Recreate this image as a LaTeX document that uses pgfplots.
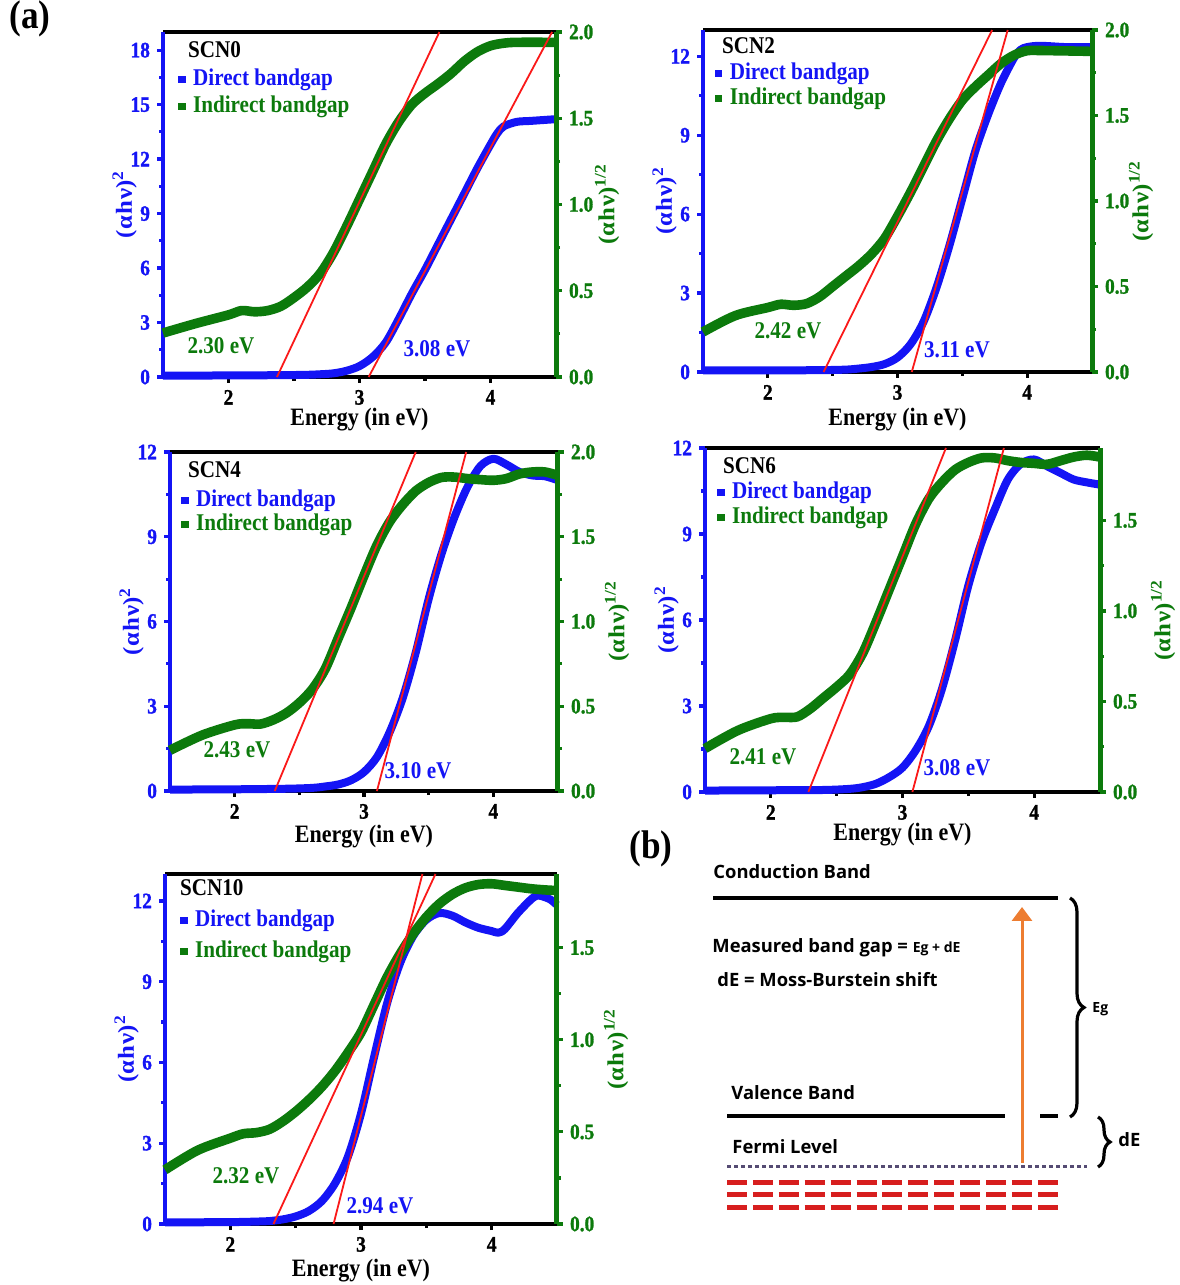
\documentclass[border=0pt]{standalone}
\usepackage{pgfplots}
\pgfplotsset{compat=1.18}
\usetikzlibrary{arrows.meta,decorations.pathreplacing}
\usepackage{fontspec}
\setmainfont{Liberation Serif}[FakeStretch=0.88]
\newfontfamily\tickfam{Liberation Serif}[FakeStretch=0.88, FakeBold=1.2]
\newfontfamily\ylabfam{Liberation Serif}[FakeStretch=1.08]
\newfontfamily\bsans{Open Sans}

\definecolor{bblue}{RGB}{20,20,245}
\definecolor{dgreen}{RGB}{12,122,12}
\definecolor{fitred}{RGB}{250,25,25}
\definecolor{orng}{RGB}{237,125,49}
\definecolor{fermi}{RGB}{85,75,115}
\definecolor{dred}{RGB}{215,30,30}

\newcommand\ticfont{\tickfam\bfseries\fontsize{11}{12}\selectfont}
\newcommand\tb[1]{\textbf{#1}}
\newcommand\labfont{\bfseries\fontsize{12.5}{14}\selectfont}
\newcommand\legfont{\bfseries\fontsize{12}{13}\selectfont}
\newcommand\ylfont{\ylabfam\bfseries\fontsize{11.5}{13}\selectfont}
\newcommand\bfont{\bsans\bfseries\fontsize{9.2}{11}\selectfont}
\newcommand\sbfont{\bsans\bfseries\fontsize{7}{8}\selectfont}

\pgfplotsset{
  /pgf/number format/assume math mode=true,
  bluecurve/.style={draw=bblue, line width=4pt, smooth, tension=0.5, line cap=butt, line join=round, no marks},
  greencurve/.style={draw=dgreen, line width=4.8pt, smooth, tension=0.5, line cap=butt, line join=round, no marks},
  fitline/.style={draw=fitred, line width=0.9pt, no marks},
  % left ordinate: (alpha h nu)^2, frame top and bottom
  panelA/.style={
    scale only axis, anchor=south west, clip=false,
    xmin=1.5, xmax=4.5, ymin=0,
    axis x line*=box, axis y line*=left, separate axis lines,
    x axis line style={black, line width=2pt},
    y axis line style={bblue, line width=2pt},
    xtick={2,3,4}, xticklabels={\tb{2},\tb{3},\tb{4}},
    minor x tick num=1, minor y tick num=1,
    xtick pos=left, ytick pos=left, tick align=outside,
    major tick length=3pt, minor tick length=2pt,
    x tick style={black, line width=1.6pt},
    y tick style={bblue, line width=1.6pt},
    xticklabel style={black, font=\ticfont},
    yticklabel style={bblue, font=\ticfont},
    ylabel near ticks,
    xlabel={Energy (in eV)}, xlabel style={font=\labfont, black, yshift=5pt},
    ylabel={(α\kern.6pt h\kern.6pt ν)\textsuperscript{2}},
    ylabel style={font=\ylfont, bblue},
    ylabel shift=-10pt,
    legend image code/.code={\fill[##1] (0pt,-1.6pt) rectangle (3.2pt,1.6pt); \path (6pt,0pt);},
    legend style={draw=none, fill=none, anchor=north west, inner sep=0pt,
      font=\legfont, legend cell align=left,
      nodes={inner sep=1pt, text height=8.5pt, text depth=2.5pt}},
  },
  % right ordinate: (alpha h nu)^(1/2)
  panelB/.style={
    scale only axis, anchor=south west, clip=false,
    xmin=1.5, xmax=4.5, ymin=0,
    hide x axis, axis y line*=right,
    y axis line style={dgreen, line width=2.5pt},
    ytick pos=right, yticklabel pos=right, tick align=outside,
    minor y tick num=1, major tick length=3pt, minor tick length=2pt,
    y tick style={dgreen, line width=1.6pt},
    yticklabel style={dgreen, font=\ticfont},
    ylabel near ticks,
    ylabel={(α\kern.6pt h\kern.6pt ν)\textsuperscript{1/2}},
    ylabel style={font=\ylfont, dgreen},
  },
  leftA/.style={yticklabels={\tb{0},\tb{3},\tb{6},\tb{9},\tb{12},\tb{15},\tb{18}}},
  rightB/.style={yticklabels={\tb{0.0},\tb{0.5},\tb{1.0},\tb{1.5},\tb{2.0}}},
}

\begin{document}
\begin{tikzpicture}
\useasboundingbox (0,0) rectangle (589.5pt,642.5pt);

% ================= SCN0 =================
\begin{axis}[panelA, at={(81.5pt,454pt)}, width=196.5pt, height=172.5pt,
  ymax=19, ytick={0,3,6,9,12,15,18}, leftA,
  legend style={at={(0.038,0.901)}, row sep=0.5pt}]
\addlegendimage{bblue}\addlegendentry{\textcolor{bblue}{Direct bandgap}}
\addlegendimage{dgreen}\addlegendentry{\textcolor{dgreen}{Indirect bandgap}}
\addplot[bluecurve, forget plot] coordinates {
 (1.5,0.08)(1.8,0.08)(2.1,0.09)(2.4,0.1)(2.6,0.12)(2.7,0.15)(2.8,0.2)(2.9,0.34)
 (3.0,0.6)(3.1,1.1)(3.2,1.9)(3.3,3.2)(3.4,4.6)(3.5,5.9)(3.6,7.3)(3.7,8.7)
 (3.8,10.1)(3.9,11.5)(4.0,12.8)(4.05,13.4)(4.1,13.8)(4.2,14.05)(4.3,14.1)
 (4.4,14.15)(4.5,14.2)};
\end{axis}
\begin{axis}[panelB, at={(81.5pt,454pt)}, width=196.5pt, height=172.5pt,
  ymax=2, ytick={0,0.5,1,1.5,2}, rightB, ylabel shift=-6pt]
\addplot[greencurve] coordinates {
 (1.5,0.255)(1.75,0.31)(2.0,0.36)(2.1,0.385)(2.2,0.378)(2.3,0.385)(2.4,0.41)
 (2.5,0.46)(2.6,0.52)(2.7,0.60)(2.8,0.72)(2.9,0.87)(3.0,1.03)(3.1,1.19)
 (3.2,1.35)(3.3,1.48)(3.4,1.58)(3.5,1.645)(3.6,1.70)(3.7,1.76)(3.8,1.83)
 (3.9,1.885)(4.0,1.92)(4.1,1.935)(4.2,1.94)(4.5,1.94)};
\addplot[fitline] coordinates {(2.37,0)(3.61,2)};
\addplot[fitline] coordinates {(3.07,0)(4.47,2)};
\end{axis}

% ================= SCN2 =================
\begin{axis}[panelA, at={(351.5pt,456.5pt)}, width=194.5pt, height=171pt,
  ymax=13, ytick={0,3,6,9,12}, leftA, xlabel style={yshift=-2.5pt},
  legend style={at={(0.03,0.912)}, row sep=-0.5pt}]
\addlegendimage{bblue}\addlegendentry{\textcolor{bblue}{Direct bandgap}}
\addlegendimage{dgreen}\addlegendentry{\textcolor{dgreen}{Indirect bandgap}}
\addplot[bluecurve, forget plot] coordinates {
 (1.5,0.06)(2.0,0.06)(2.4,0.07)(2.6,0.09)(2.7,0.13)(2.8,0.19)(2.9,0.3)(3.0,0.55)
 (3.1,1.05)(3.2,1.9)(3.3,3.2)(3.4,4.8)(3.5,6.6)(3.6,8.4)(3.7,9.8)(3.8,11.0)
 (3.9,11.95)(3.95,12.25)(4.0,12.35)(4.1,12.4)(4.3,12.35)(4.5,12.35)};
\end{axis}
\begin{axis}[panelB, at={(351.5pt,456.5pt)}, width=194.5pt, height=171pt,
  ymax=2, ytick={0,0.5,1,1.5,2}, rightB, ylabel shift=-7pt]
\addplot[greencurve] coordinates {
 (1.5,0.234)(1.75,0.33)(2.0,0.377)(2.1,0.396)(2.2,0.39)(2.3,0.40)(2.4,0.44)
 (2.5,0.50)(2.6,0.56)(2.7,0.62)(2.8,0.69)(2.9,0.78)(3.0,0.91)(3.1,1.05)
 (3.2,1.20)(3.3,1.35)(3.4,1.48)(3.5,1.59)(3.6,1.668)(3.7,1.737)(3.8,1.805)
 (3.9,1.853)(4.0,1.879)(4.1,1.88)(4.5,1.875)};
\addplot[fitline] coordinates {(2.43,0)(3.73,2)};
\addplot[fitline] coordinates {(3.11,0)(3.85,2)};
\end{axis}

% ================= SCN4 =================
\begin{axis}[panelA, at={(85pt,247pt)}, width=194pt, height=169.5pt,
  ymax=12, ytick={0,3,6,9,12}, leftA, xlabel style={yshift=-1.5pt},
  legend style={at={(0.028,0.897)}, row sep=-1pt}]
\addlegendimage{bblue}\addlegendentry{\textcolor{bblue}{Direct bandgap}}
\addlegendimage{dgreen}\addlegendentry{\textcolor{dgreen}{Indirect bandgap}}
\addplot[bluecurve, forget plot] coordinates {
 (1.5,0.05)(2.0,0.06)(2.4,0.08)(2.6,0.11)(2.7,0.16)(2.8,0.23)(2.9,0.38)(3.0,0.67)
 (3.1,1.2)(3.2,2.1)(3.3,3.3)(3.4,4.9)(3.5,6.8)(3.6,8.4)(3.7,9.7)(3.8,10.76)
 (3.9,11.5)(4.0,11.76)(4.1,11.56)(4.2,11.3)(4.3,11.17)(4.4,11.14)(4.5,11.0)};
\end{axis}
\begin{axis}[panelB, at={(85pt,247pt)}, width=194pt, height=169.5pt,
  ymax=2, ytick={0,0.5,1,1.5,2}, rightB, ylabel shift=-2pt]
\addplot[greencurve] coordinates {
 (1.5,0.24)(1.75,0.33)(2.0,0.39)(2.1,0.397)(2.2,0.395)(2.3,0.42)(2.4,0.46)
 (2.5,0.52)(2.6,0.60)(2.7,0.72)(2.8,0.90)(2.9,1.08)(3.0,1.27)(3.1,1.45)
 (3.2,1.59)(3.3,1.69)(3.4,1.77)(3.5,1.82)(3.6,1.85)(3.7,1.852)(3.8,1.843)
 (3.9,1.837)(4.0,1.833)(4.1,1.843)(4.2,1.87)(4.3,1.882)(4.4,1.882)(4.5,1.862)};
\addplot[fitline] coordinates {(2.31,0)(3.40,2)};
\addplot[fitline] coordinates {(3.10,0)(3.79,2)};
\end{axis}

% ================= SCN6 =================
\begin{axis}[panelA, at={(352.5pt,246.5pt)}, width=197.5pt, height=172pt,
  ymax=12, ytick={0,3,6,9,12}, leftA,
  legend style={at={(0.03,0.910)}, row sep=-0.5pt}]
\addlegendimage{bblue}\addlegendentry{\textcolor{bblue}{Direct bandgap}}
\addlegendimage{dgreen}\addlegendentry{\textcolor{dgreen}{Indirect bandgap}}
\addplot[bluecurve, forget plot] coordinates {
 (1.5,0.05)(2.0,0.06)(2.4,0.07)(2.6,0.11)(2.7,0.17)(2.8,0.29)(2.9,0.52)(3.0,0.85)
 (3.1,1.45)(3.2,2.3)(3.3,3.6)(3.4,5.3)(3.5,7.2)(3.6,8.7)(3.7,9.85)(3.8,10.9)
 (3.9,11.45)(4.0,11.6)(4.1,11.36)(4.2,11.13)(4.3,10.9)(4.4,10.8)(4.5,10.72)};
\end{axis}
\begin{axis}[panelB, at={(352.5pt,246.5pt)}, width=197.5pt, height=172pt,
  ymax=1.9, ytick={0,0.5,1,1.5}, rightB, ylabel shift=0pt]
\addplot[greencurve] coordinates {
 (1.5,0.24)(1.75,0.34)(2.0,0.405)(2.1,0.412)(2.2,0.415)(2.3,0.46)(2.4,0.52)
 (2.5,0.58)(2.6,0.65)(2.7,0.77)(2.8,0.94)(2.9,1.12)(3.0,1.30)(3.1,1.48)
 (3.2,1.62)(3.3,1.71)(3.4,1.78)(3.5,1.82)(3.6,1.845)(3.7,1.845)(3.8,1.83)
 (3.9,1.82)(4.0,1.815)(4.1,1.81)(4.2,1.83)(4.3,1.85)(4.4,1.86)(4.5,1.85)};
\addplot[fitline] coordinates {(2.285,0)(3.33,1.9)};
\addplot[fitline] coordinates {(3.075,0)(3.77,1.9)};
\end{axis}

% ================= SCN10 =================
\begin{axis}[panelA, at={(82.5pt,30.5pt)}, width=196pt, height=175pt,
  ymax=13, ytick={0,3,6,9,12}, leftA, xlabel style={yshift=-2pt},
  legend style={at={(0.038,0.906)}, row sep=2.5pt}]
\addlegendimage{bblue}\addlegendentry{\textcolor{bblue}{Direct bandgap}}
\addlegendimage{dgreen}\addlegendentry{\textcolor{dgreen}{Indirect bandgap}}
\addplot[bluecurve, forget plot] coordinates {
 (1.5,0.06)(2.0,0.07)(2.2,0.09)(2.3,0.11)(2.4,0.17)(2.5,0.28)(2.6,0.48)(2.7,0.85)
 (2.8,1.5)(2.9,2.5)(3.0,4.1)(3.1,6.2)(3.2,8.2)(3.3,9.7)(3.4,10.7)(3.5,11.3)
 (3.6,11.55)(3.7,11.45)(3.8,11.2)(3.9,11.0)(4.0,10.88)(4.05,10.82)(4.1,10.95)
 (4.2,11.55)(4.3,12.05)(4.35,12.2)(4.4,12.15)(4.45,12.05)(4.5,11.85)};
\end{axis}
\begin{axis}[panelB, at={(82.5pt,30.5pt)}, width=196pt, height=175pt,
  ymax=1.9, ytick={0,0.5,1,1.5}, rightB, ylabel shift=-2pt]
\addplot[greencurve] coordinates {
 (1.5,0.294)(1.75,0.40)(2.0,0.466)(2.1,0.49)(2.2,0.496)(2.3,0.514)(2.4,0.556)
 (2.5,0.61)(2.6,0.673)(2.7,0.745)(2.8,0.83)(2.9,0.93)(3.0,1.04)(3.1,1.19)
 (3.2,1.34)(3.3,1.467)(3.4,1.576)(3.5,1.666)(3.6,1.738)(3.7,1.79)(3.8,1.825)
 (3.9,1.843)(4.0,1.847)(4.1,1.838)(4.2,1.829)(4.3,1.82)(4.4,1.814)(4.5,1.81)};
\addplot[fitline] coordinates {(2.33,0)(3.57,1.9)};
\addplot[fitline] coordinates {(2.79,0)(3.47,1.9)};
\end{axis}

% ---------- annotations and band diagram (pixel grid, y downwards) ----------
\begin{scope}[x=0.5pt, y=-0.5pt, yshift=642.5pt]
  \node[font=\bfseries\fontsize{20}{22}\selectfont] at (30,19) {(a)};
  \node[font=\bfseries\fontsize{20}{22}\selectfont] at (651,849) {(b)};

  \node[anchor=west, font=\legfont] at (181,50) {SCN0};
  \node[anchor=west, font=\legfont] at (715,46) {SCN2};
  \node[anchor=west, font=\legfont] at (181,470) {SCN4};
  \node[anchor=west, font=\legfont] at (716,466) {SCN6};
  \node[anchor=west, font=\legfont] at (173,888) {SCN10};

  \node[font=\legfont, dgreen] at (221,346) {2.30 eV};
  \node[font=\legfont, bblue]  at (437,349) {3.08 eV};
  \node[font=\legfont, dgreen] at (788,331) {2.42 eV};
  \node[font=\legfont, bblue]  at (957,350) {3.11 eV};
  \node[font=\legfont, dgreen] at (237,750) {2.43 eV};
  \node[font=\legfont, bblue]  at (418,771) {3.10 eV};
  \node[font=\legfont, dgreen] at (763,757) {2.41 eV};
  \node[font=\legfont, bblue]  at (957,768) {3.08 eV};
  \node[font=\legfont, dgreen] at (246,1176) {2.32 eV};
  \node[font=\legfont, bblue]  at (380,1206) {2.94 eV};

  % band diagram
  \node[anchor=west, font=\bfont, inner sep=0pt] at (713,872) {Conduction Band};
  \draw[line width=2.3pt] (713,898) -- (1058,898);
  \node[anchor=west, font=\bfont, inner sep=0pt] at (712,948) {Measured band gap = {\sbfont Eg + dE}};
  \node[anchor=west, font=\bfont, inner sep=0pt] at (717,980) {dE = Moss-Burstein shift};
  \node[anchor=west, font=\bfont, inner sep=0pt] at (731,1093) {Valence Band};
  \draw[line width=2pt] (727,1116) -- (1005,1116);
  \draw[line width=2pt] (1040,1116) -- (1058,1116);
  \node[anchor=west, font=\bfont, inner sep=0pt] at (732,1147) {Fermi Level};
  \draw[fermi, line width=1.5pt, dash pattern=on 2pt off 1.5pt] (727,1167) -- (1087,1167);
  \foreach \yy in {1183,1195,1208}
    \draw[dred, line width=2.5pt, dash pattern=on 10pt off 2.95pt] (727,\yy) -- (1058,\yy);
  \draw[orng, line width=1.5pt, -{Triangle[width=10pt,length=7pt]}] (1022,1163) -- (1022,907);
  \draw[line width=1.6pt, decorate, decoration={brace, amplitude=7pt}] (1070,898) -- (1070,1117);
  \node[anchor=west, font=\sbfont, inner sep=0pt] at (1092,1009) {Eg};
  \draw[line width=1.6pt, decorate, decoration={brace, amplitude=6pt}] (1098,1117) -- (1098,1167);
  \node[anchor=west, font=\bfont, inner sep=0pt] at (1118,1140) {dE};
\end{scope}
\end{tikzpicture}
\end{document}
